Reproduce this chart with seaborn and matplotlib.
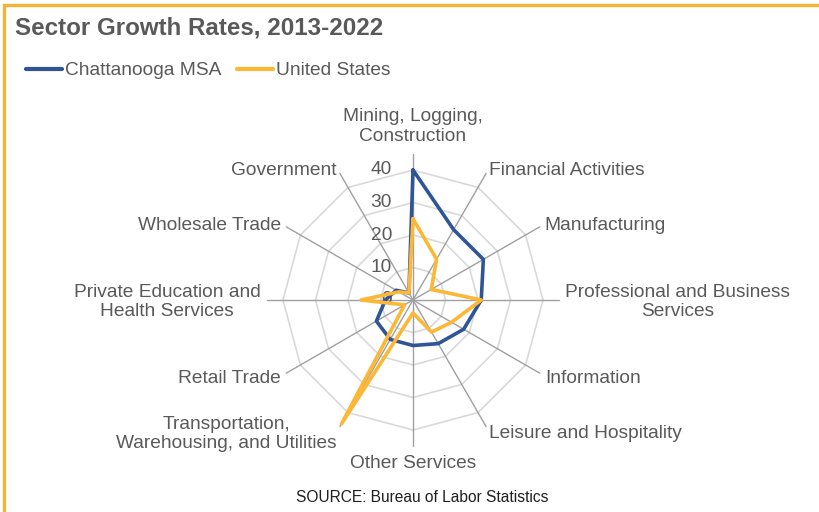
import numpy as np
import pandas as pd
import matplotlib.pyplot as plt
import seaborn as sns
from matplotlib.patches import Rectangle

# ------------------------------------------------------------
# Data (growth rate, %, 2013-2022), clockwise from the top
# ------------------------------------------------------------
categories = [
    "Mining, Logging,\nConstruction",
    "Financial Activities",
    "Manufacturing",
    "Professional and Business\nServices",
    "Information",
    "Leisure and Hospitality",
    "Other Services",
    "Transportation,\nWarehousing, and Utilities",
    "Retail Trade",
    "Private Education and\nHealth Services",
    "Wholesale Trade",
    "Government",
]
chattanooga = [40, 25, 25, 21, 18, 15.5, 14, 14, 13, 8.5, 6, 2.5]
united_states = [25, 14.5, 6.5, 21, 13.7, 11.4, 4, 44, 3, 16, 5, 2.5]
series_names = ["Chattanooga MSA", "United States"]
ring_levels = [10, 20, 30, 40]
tick_values = [0, 10, 20, 30, 40]
r_max = 45

BLUE = "#2F5597"
GOLD = "#FBB735"
TEXT = "#595959"
FS = 13.8

sns.set_theme(style="white")
plt.rcParams["font.family"] = ["Liberation Sans", "DejaVu Sans"]

# angles: first category at the top, going clockwise
n = len(categories)
angles = np.pi / 2 - np.arange(n) * 2 * np.pi / n


def to_xy(values):
    v = np.asarray(values, dtype=float)
    return v * np.cos(angles), v * np.sin(angles)


# long table for seaborn, polygons closed by repeating the first point
rows = []
for name, vals in zip(series_names, [chattanooga, united_states]):
    x, y = to_xy(vals)
    for i in list(range(n)) + [0]:
        rows.append({"series": name, "x": x[i], "y": y[i]})
df = pd.DataFrame(rows)

fig = plt.figure(figsize=(8.2, 5.12), dpi=100)
# axes over the whole figure, scale 3.25 px per unit, centre at (413, 300) px
scale = 3.25
cx, cy = 413, 300
ax = fig.add_axes([0, 0, 1, 1])
ax.set_xlim(-cx / scale, (820 - cx) / scale)
ax.set_ylim(-(512 - cy) / scale, cy / scale)
ax.axis("off")

# polygon rings
for lvl in ring_levels:
    rx, ry = to_xy([lvl] * n)
    ax.plot(np.append(rx, rx[0]), np.append(ry, ry[0]), color="#D9D9D9", lw=1.2, zorder=1)

# spokes
ex, ey = to_xy([r_max] * n)
for i in range(n):
    ax.plot([0, ex[i]], [0, ey[i]], color="#A0A0A0", lw=1.0, zorder=2)

# data lines
sns.lineplot(
    data=df, x="x", y="y", hue="series", palette=[BLUE, GOLD],
    sort=False, estimator=None, units="series", lw=2.6, ax=ax, legend=False,
    zorder=3,
)
for line in ax.lines[-2:]:
    line.set_solid_joinstyle("round")
    line.set_solid_capstyle("round")

# category labels
for i, lab in enumerate(categories):
    c, s = np.cos(angles[i]), np.sin(angles[i])
    ha = "left" if c > 0.1 else ("right" if c < -0.1 else "center")
    if s > 0.9:
        va, off, dy = "bottom", 9, 0
    elif s < -0.9:
        va, off, dy = "top", 9, 0
    else:
        va, off, dy = "center", 6, -2
    ax.annotate(lab, (ex[i], ey[i]), xytext=(off * c, off * s + dy), textcoords="offset pixels",
                ha=ha, va=va, multialignment="center", fontsize=FS, color=TEXT,
                linespacing=1.2)

# radial tick labels along the top spoke
for t in tick_values:
    ax.annotate(str(t), (0, t), xytext=(-21, 0), textcoords="offset pixels",
                ha="right", va="center", fontsize=FS, color=TEXT, zorder=2.5)

# title, legend, source
fig.text(15 / 820, 1 - 28 / 512, "Sector Growth Rates, 2013-2022", fontsize=17.4,
         fontweight="bold", color=TEXT, ha="left", va="center")

handles = [plt.Line2D([], [], color=BLUE, lw=3), plt.Line2D([], [], color=GOLD, lw=3)]
fig.legend(handles, series_names, loc="upper left", bbox_to_anchor=(26 / 820, 1 - 62 / 512),
           ncol=2, frameon=False, fontsize=FS, handlelength=1.9, handletextpad=0.15,
           columnspacing=0.8, borderpad=0, borderaxespad=0, labelcolor=TEXT)

fig.text(422 / 820, 1 - 497 / 512, "SOURCE: Bureau of Labor Statistics", fontsize=11.2,
         color="#1F1F1F", ha="center", va="center")

# gold chart border (top and left edges visible)
fig.add_artist(Rectangle((4.5 / 820, -0.05), 1.2, 1.05 - 4.5 / 512, transform=fig.transFigure,
                         fill=False, edgecolor="#F8B334", lw=2.4))

fig.savefig("out.png", dpi=100)
